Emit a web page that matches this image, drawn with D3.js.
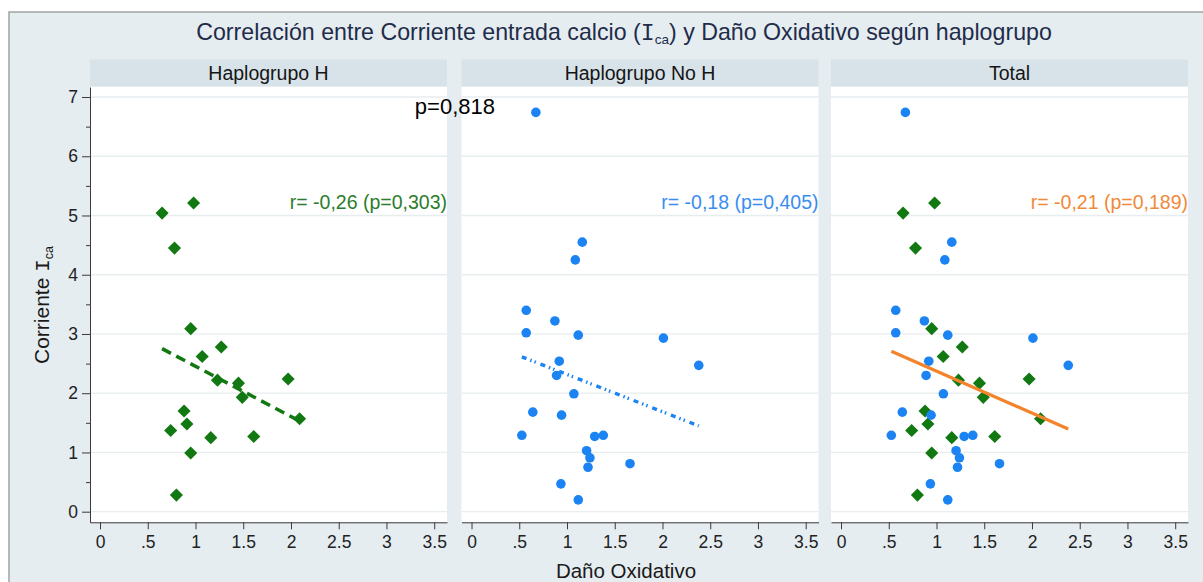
<!DOCTYPE html>
<html>
<head>
<meta charset="utf-8">
<script src="https://cdn.jsdelivr.net/npm/d3@7"></script>
<style>
  html, body { margin: 0; padding: 0; background: #ffffff; }
  svg { display: block; font-family: "Liberation Sans", Arial, Helvetica, sans-serif; }
</style>
</head>
<body>
<svg id="chart" width="1203" height="582"></svg>
<script>
// Haplogrupo H: daño oxidativo (x) y corriente de entrada de calcio (y)
const grupoH_dano = [0.65, 0.98, 0.78, 0.95, 1.27, 1.07, 1.23, 1.45, 1.97, 1.49, 2.09, 0.88, 0.91, 0.74, 1.16, 1.61, 0.95, 0.80];
const grupoH_corriente = [5.04, 5.21, 4.45, 3.09, 2.78, 2.62, 2.22, 2.17, 2.24, 1.93, 1.57, 1.70, 1.48, 1.37, 1.25, 1.27, 0.99, 0.28];

// Haplogrupo No H
const grupoNoH_dano = [0.674, 1.16, 1.087, 0.573, 0.873, 0.573, 1.118, 2.01, 2.38, 0.919, 0.891, 1.072, 0.642, 0.943, 0.527, 1.29, 1.38, 1.205, 1.24, 1.22, 1.66, 0.936, 1.118];
const grupoNoH_corriente = [6.74, 4.55, 4.25, 3.40, 3.22, 3.02, 2.98, 2.93, 2.47, 2.54, 2.30, 1.99, 1.68, 1.63, 1.29, 1.27, 1.29, 1.03, 0.91, 0.75, 0.81, 0.47, 0.20];

const panelTitles = ["Haplogrupo H", "Haplogrupo No H", "Total"];
const corrLabels = ["r= -0,26 (p=0,303)", "r= -0,18 (p=0,405)", "r= -0,21 (p=0,189)"];
const pLabel = "p=0,818";
const xTickValues = [0, 0.5, 1, 1.5, 2, 2.5, 3, 3.5];
const xTickLabels = ["0", ".5", "1", "1.5", "2", "2.5", "3", "3.5"];
const yTickValues = [0, 1, 2, 3, 4, 5, 6, 7];
const yMinorValues = [0.5, 1.5, 2.5, 3.5, 4.5, 5.5, 6.5];

const COLORS = {
  green: "#127812", greenText: "#2b7d2b",
  blue: "#1c84f2", blueText: "#3a8df0",
  orange: "#f4842c", orangeText: "#f08a3a"
};

const svg = d3.select("#chart");
const W = 1203, H = 582;

// outer frame
svg.append("rect").attr("x", 9).attr("y", 12).attr("width", W).attr("height", H)
  .attr("fill", "#e5edf1").attr("stroke", "#a3a3a3").attr("stroke-width", 1.5);

const panelLefts = [90, 461.5, 831];
const panelW = 357;
const plotTop = 87, plotBottom = 522.3;
const headerTop = 59.5, headerBottom = 86;

const y = d3.scaleLinear().domain([-0.179, 7.169]).range([plotBottom, plotTop]);

// least-squares line over the observed range of x
function fit(xs, ys) {
  const mx = d3.mean(xs), my = d3.mean(ys);
  let sxy = 0, sxx = 0;
  xs.forEach((v, i) => { sxy += (v - mx) * (ys[i] - my); sxx += (v - mx) * (v - mx); });
  const b = sxy / sxx, a = my - b * mx;
  const [x0, x1] = d3.extent(xs);
  return [[x0, a + b * x0], [x1, a + b * x1]];
}

const zip = (xs, ys) => xs.map((v, i) => [v, ys[i]]);
const ptsH = zip(grupoH_dano, grupoH_corriente);
const ptsNoH = zip(grupoNoH_dano, grupoNoH_corriente);

const panels = [
  { diamonds: ptsH, circles: [], line: fit(grupoH_dano, grupoH_corriente),
    lineColor: COLORS.green, dash: "10,6", lw: 3.5, textColor: COLORS.greenText },
  { diamonds: [], circles: ptsNoH, line: fit(grupoNoH_dano, grupoNoH_corriente),
    lineColor: COLORS.blue, dash: "5,4,1.5,3,1.5,5", lw: 3.4, textColor: COLORS.blueText },
  { diamonds: ptsH, circles: ptsNoH,
    line: fit(grupoH_dano.concat(grupoNoH_dano), grupoH_corriente.concat(grupoNoH_corriente)),
    lineColor: COLORS.orange, dash: null, lw: 3.2, textColor: COLORS.orangeText }
];

const diamond = d3.symbol().type(d3.symbolSquare).size(86);

panels.forEach((p, i) => {
  const left = panelLefts[i];
  const x = d3.scaleLinear().domain([-0.105, 3.634]).range([left, left + panelW]);
  const g = svg.append("g");

  // header strip
  g.append("rect").attr("x", left).attr("y", headerTop).attr("width", panelW)
    .attr("height", headerBottom - headerTop).attr("fill", "#d8e3e9");
  g.append("text").attr("x", left + panelW / 2).attr("y", 79.5).attr("text-anchor", "middle")
    .attr("font-size", 19.5).attr("fill", "#151515").text(panelTitles[i]);

  // plot region
  g.append("rect").attr("x", left).attr("y", plotTop).attr("width", panelW)
    .attr("height", plotBottom - plotTop).attr("fill", "#ffffff");

  // horizontal grid
  g.selectAll("line.grid").data(yTickValues).join("line").attr("class", "grid")
    .attr("x1", left).attr("x2", left + panelW)
    .attr("y1", d => y(d)).attr("y2", d => y(d))
    .attr("stroke", "#e8edf0").attr("stroke-width", 1.3);

  // x axis
  const xAxis = d3.axisBottom(x).tickValues(xTickValues)
    .tickFormat((d, k) => xTickLabels[k]).tickSize(7).tickSizeOuter(0).tickPadding(6);
  const gx = g.append("g").attr("transform", `translate(0,${plotBottom})`).call(xAxis);
  gx.select(".domain").attr("stroke", "#3a3a3a");
  gx.selectAll(".tick line").attr("stroke", "#3a3a3a");
  gx.selectAll(".tick text").attr("font-size", 17.5).attr("fill", "#222")
    .attr("font-family", "'Liberation Sans', Arial, sans-serif");

  // y axis only on the first panel
  if (i === 0) {
    const yAxis = d3.axisLeft(y).tickValues(yTickValues).tickSize(8).tickSizeOuter(0).tickPadding(4);
    const gy = g.append("g").attr("transform", `translate(${left},0)`).call(yAxis);
    gy.select(".domain").attr("stroke", "#3a3a3a");
    gy.selectAll(".tick line").attr("stroke", "#3a3a3a");
    gy.selectAll(".tick text").attr("font-size", 17.5).attr("fill", "#222")
      .attr("font-family", "'Liberation Sans', Arial, sans-serif");
    const yMinor = d3.axisLeft(y).tickValues(yMinorValues).tickSize(4).tickFormat("");
    const gm = g.append("g").attr("transform", `translate(${left},0)`).call(yMinor);
    gm.select(".domain").remove();
    gm.selectAll(".tick line").attr("stroke", "#3a3a3a");
  }

  // markers
  g.selectAll("path.dia").data(p.diamonds).join("path").attr("class", "dia")
    .attr("d", diamond)
    .attr("transform", d => `translate(${x(d[0])},${y(d[1])}) rotate(45)`)
    .attr("fill", COLORS.green);
  g.selectAll("circle.pt").data(p.circles).join("circle").attr("class", "pt")
    .attr("cx", d => x(d[0])).attr("cy", d => y(d[1])).attr("r", 4.8)
    .attr("fill", COLORS.blue);

  // fitted line
  g.append("path")
    .attr("d", d3.line().x(d => x(d[0])).y(d => y(d[1]))(p.line))
    .attr("fill", "none").attr("stroke", p.lineColor).attr("stroke-width", p.lw)
    .attr("stroke-dasharray", p.dash);

  // correlation text
  g.append("text").attr("x", left + panelW).attr("y", 208.5).attr("text-anchor", "end")
    .attr("font-size", 19.5).attr("fill", p.textColor).text(corrLabels[i]);
});

// p-value note
svg.append("text").attr("x", 495).attr("y", 114).attr("text-anchor", "end")
  .attr("font-size", 22).attr("fill", "#000").text(pLabel);

// title
const title = svg.append("text").attr("x", 624).attr("y", 39.5).attr("text-anchor", "middle")
  .attr("font-size", 23.2).attr("fill", "#1f2c4a");
title.append("tspan").text("Correlación entre Corriente entrada calcio (");
title.append("tspan").attr("font-family", "'Liberation Mono', 'DejaVu Sans Mono', monospace").text("I");
title.append("tspan").attr("font-size", 13.5).attr("dy", 4).text("ca");
title.append("tspan").attr("dy", -4).text(") y Daño Oxidativo según haplogrupo");

// y axis title
const ytitle = svg.append("text").attr("transform", "translate(49,305) rotate(-90)")
  .attr("text-anchor", "middle").attr("font-size", 21).attr("fill", "#1a1a1a");
ytitle.append("tspan").text("Corriente ");
ytitle.append("tspan").attr("font-family", "'Liberation Mono', 'DejaVu Sans Mono', monospace").text("I");
ytitle.append("tspan").attr("font-size", 12.5).attr("dy", 4).text("ca");

// x axis title
svg.append("text").attr("x", 626).attr("y", 577.5).attr("text-anchor", "middle")
  .attr("font-size", 20.5).attr("fill", "#1a1a1a").text("Daño Oxidativo");
</script>
</body>
</html>
